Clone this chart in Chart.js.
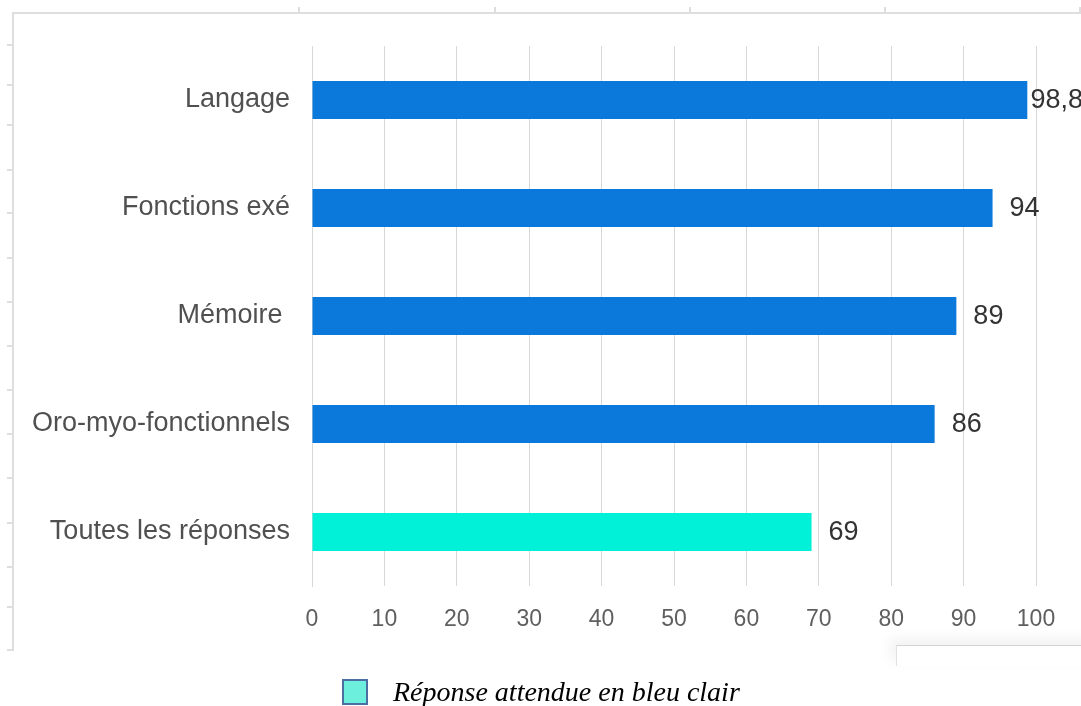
<!DOCTYPE html>
<html>
<head>
<meta charset="utf-8">
<script src="https://cdn.jsdelivr.net/npm/chart.js@4"></script>
<style>
  html, body { margin:0; padding:0; background:#fff; width:1081px; height:706px; overflow:hidden; }
  #wrap { position:absolute; left:0; top:0; width:1081px; height:706px; }
  canvas { position:absolute; left:0; top:0; }
  .fl { position:absolute; background:#dedede; }
  #legend { position:absolute; left:342px; top:676px; height:32px; display:flex; align-items:center; }
  #legend .sw { width:22px; height:22px; background:#6cefdc; border:2px solid #4b6fa0; }
  #legend .tx { margin-left:25px; font-family:"Liberation Serif","DejaVu Serif",serif; font-style:italic; font-size:28px; color:#000; line-height:32px; }
  #panel { position:absolute; left:896px; top:645px; width:200px; height:20px; border-top:1px solid #d4d4d4; border-left:1px solid #e2e2e2; box-shadow:-6px -6px 14px rgba(0,0,0,0.06); background:#fff; }
</style>
</head>
<body>
<div id="wrap">
  <canvas id="c" width="1081" height="706"></canvas>
  <div id="frame"></div>
  <div id="panel"></div>
  <div id="legend"><div class="sw"></div><div class="tx">Réponse attendue en bleu clair</div></div>
</div>
<script>
const categories = ["Langage", "Fonctions exé", "Mémoire ", "Oro-myo-fonctionnels", "Toutes les réponses"];
const values = [98.8, 94, 89, 86, 69];
const barColors = ["#0b78dc", "#0b78dc", "#0b78dc", "#0b78dc", "#00f0d8"];
const xTicks = [0, 10, 20, 30, 40, 50, 60, 70, 80, 90, 100];

// decorative frame of the original screenshot
(function(){
  const f = document.getElementById('frame');
  function line(l,t,w,h){ const d=document.createElement('div'); d.className='fl'; d.style.left=l+'px'; d.style.top=t+'px'; d.style.width=w+'px'; d.style.height=h+'px'; f.appendChild(d); }
  line(12,12,1069,2);
  line(12,12,2,639);
  [298,494,689,884,1079].forEach(x=>line(x,7,2,6));
  [44,84,124,169,212,257,301,345,389,433,477,522,566,606,649].forEach(y=>line(7,y,6,2));
})();

const fmt = v => String(v).replace('.', ',');

const valueLabels = {
  id: 'valueLabels',
  afterDatasetsDraw(chart) {
    const ctx = chart.ctx;
    const meta = chart.getDatasetMeta(0);
    ctx.save();
    ctx.font = '27px "Liberation Sans", Arial, sans-serif';
    ctx.fillStyle = '#333';
    ctx.textAlign = 'left';
    ctx.textBaseline = 'middle';
    meta.data.forEach((bar, i) => {
      const txt = fmt(values[i]);
      const w = ctx.measureText(txt).width;
      const off = Math.max(1, Math.min(17, chart.width - bar.x - w + 2));
      ctx.fillText(txt, bar.x + off, bar.y + 1);
    });
    ctx.restore();
  }
};

new Chart(document.getElementById('c'), {
  type: 'bar',
  data: {
    labels: categories,
    datasets: [{
      data: values,
      backgroundColor: barColors,
      borderWidth: 0,
      barPercentage: 0.352,
      categoryPercentage: 1
    }]
  },
  options: {
    indexAxis: 'y',
    responsive: false,
    animation: false,
    devicePixelRatio: 1,
    layout: { padding: { top: 46, right: 45, left: 0, bottom: 60 } },
    plugins: { legend: { display: false }, tooltip: { enabled: false } },
    scales: {
      x: {
        min: 0, max: 100,
        afterBuildTicks(scale) { scale.ticks = xTicks.map(v => ({ value: v })); },
        afterFit(scale) { scale.height = 60; },
        grid: { color: '#d8d8d8', lineWidth: 1, drawTicks: false },
        border: { display: false },
        ticks: {
          padding: 20,
          color: '#5f5f5f',
          font: { family: '"Liberation Sans", Arial, sans-serif', size: 23 }
        }
      },
      y: {
        afterFit(scale) { scale.width = 312; },
        grid: { display: false, drawTicks: false },
        border: { display: true, color: '#d8d8d8', width: 1 },
        ticks: {
          padding: 22,
          color: '#505050',
          font: { family: '"Liberation Sans", Arial, sans-serif', size: 27 }
        }
      }
    }
  },
  plugins: [valueLabels]
});
</script>
</body>
</html>
